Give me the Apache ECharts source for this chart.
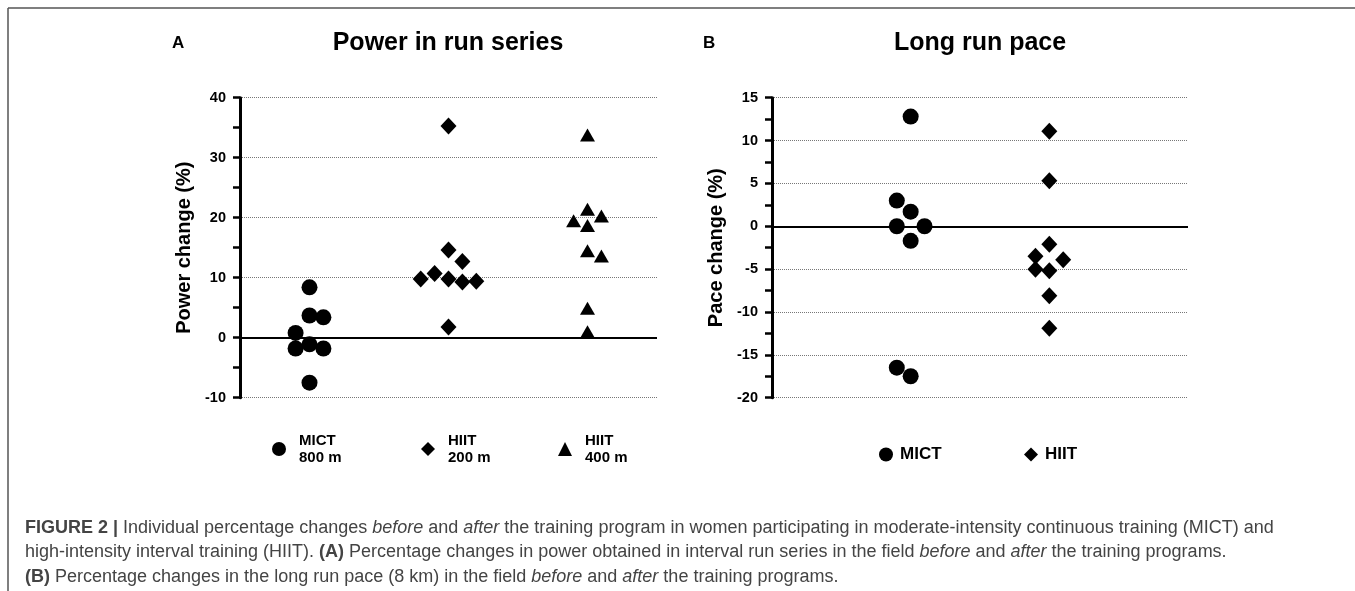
<!DOCTYPE html>
<html>
<head>
<meta charset="utf-8">
<script src="https://cdn.jsdelivr.net/npm/echarts@6/dist/echarts.min.js"></script>
<style>
  html, body { margin: 0; padding: 0; background: #fff; }
  #chart { width: 1355px; height: 591px; }
</style>
</head>
<body>
<div id="chart"></div>
<script>
// ---------- Data ----------
// Panel A: Power in run series (% change)
const groupsA = ['MICT 800 m', 'HIIT 200 m', 'HIIT 400 m'];
const mict800 = [8.4, 3.7, 3.4, 0.8, -1.1, -1.8, -1.8, -7.5];
const mict800Slot = [0, 0, 1, -1, 0, -1, 1, 0];
const hiit200 = [35.3, 14.6, 12.7, 10.7, 9.8, 9.8, 9.3, 9.4, 1.8];
const hiit200Slot = [0, 0, 1, -1, -2, 0, 1, 2, 0];
const hiit400 = [33.8, 21.4, 20.3, 19.5, 18.7, 14.5, 13.6, 4.9, 1.0];
const hiit400Slot = [0, 0, 1, -1, 0, 0, 1, 0, 0];
const ticksA = [-10, 0, 10, 20, 30, 40];

// Panel B: Long run pace (% change)
const groupsB = ['MICT', 'HIIT'];
const mictPace = [12.8, 3.0, 1.7, 0, 0, -1.7, -16.5, -17.5];
const mictPaceSlot = [0, -1, 0, -1, 1, 0, -1, 0];
const hiitPace = [11.1, 5.3, -2.1, -3.5, -3.9, -5.0, -5.2, -8.1, -11.9];
const hiitPaceSlot = [0, 0, 0, -1, 1, -1, 0, 0, 0];
const ticksB = [-20, -15, -10, -5, 0, 5, 10, 15];

// ---------- Helpers ----------
const FONT = "'Liberation Sans', Arial, sans-serif";
const SLOT = 0.1;
function pts(values, slots, center) {
  return values.map((v, i) => [center + slots[i] * SLOT, v]);
}

const zeroLine = {
  silent: true, symbol: 'none', animation: false,
  label: { show: false },
  lineStyle: { color: '#000', width: 2, type: 'solid' },
  data: [{ yAxis: 0 }]
};

function yAxisCfg(grid, tks, name) {
  return {
    gridIndex: grid, type: 'value',
    min: tks[0], max: tks[tks.length - 1], interval: tks[1] - tks[0],
    name: name, nameLocation: 'middle', nameGap: 46,
    nameTextStyle: { fontSize: 20, fontWeight: 'bold', color: '#000', fontFamily: FONT },
    axisLine: { show: true, lineStyle: { color: '#000', width: 3 } },
    axisTick: { show: true, length: 7, lineStyle: { color: '#000', width: 2.5 } },
    minorTick: { show: true, splitNumber: 2, length: 7, lineStyle: { color: '#000', width: 2.5 } },
    axisLabel: { fontSize: 14.5, fontWeight: 'bold', color: '#000', margin: 14, fontFamily: FONT },
    splitLine: { show: true, lineStyle: { type: 'dotted', color: '#777', width: 1 } }
  };
}

const blk = { color: '#000', opacity: 1 };
const capStyle = {
  fontSize: 18, fontWeight: 'normal', color: '#444', fontFamily: FONT,
  rich: {
    b: { fontSize: 18, fontWeight: 'bold', color: '#444', fontFamily: FONT },
    i: { fontSize: 18, fontStyle: 'italic', color: '#444', fontFamily: FONT }
  }
};

const legendBase = {
  orient: 'horizontal', padding: 0, itemWidth: 14, itemHeight: 14,
  selectedMode: false,
  textStyle: { fontSize: 15, fontWeight: 'bold', color: '#000', fontFamily: FONT, lineHeight: 17, padding: [0, 0, 0, 8] }
};
const legendBText = Object.assign({}, legendBase.textStyle, { fontSize: 17, padding: [0, 0, 0, 2] });
const nl = n => n.replace(' ', '\n');

const option = {
  animation: false,
  backgroundColor: '#fff',
  title: [
    { text: 'A', left: 172, top: 35, padding: 0, textStyle: { fontSize: 17, fontWeight: 'bold', color: '#000', fontFamily: FONT } },
    { text: 'Power in run series', left: 448, top: 31, padding: 0, textAlign: 'center', textStyle: { fontSize: 25, fontWeight: 'bold', color: '#000', fontFamily: FONT } },
    { text: 'B', left: 703, top: 35, padding: 0, textStyle: { fontSize: 17, fontWeight: 'bold', color: '#000', fontFamily: FONT } },
    { text: 'Long run pace', left: 980, top: 31, padding: 0, textAlign: 'center', textStyle: { fontSize: 25, fontWeight: 'bold', color: '#000', fontFamily: FONT } },
    { text: '{b|FIGURE 2 |} Individual percentage changes {i|before} and {i|after} the training program in women participating in moderate-intensity continuous training (MICT) and', left: 25, top: 519, padding: 0, textStyle: capStyle },
    { text: 'high-intensity interval training (HIIT). {b|(A)} Percentage changes in power obtained in interval run series in the field {i|before} and {i|after} the training programs.', left: 25, top: 543, padding: 0, textStyle: capStyle },
    { text: '{b|(B)} Percentage changes in the long run pace (8 km) in the field {i|before} and {i|after} the training programs.', left: 25, top: 568, padding: 0, textStyle: capStyle }
  ],
  graphic: [
    { type: 'line', shape: { x1: 8, y1: 8, x2: 1355, y2: 8 }, style: { stroke: '#555', lineWidth: 1.5 } },
    { type: 'line', shape: { x1: 8, y1: 8, x2: 8, y2: 591 }, style: { stroke: '#555', lineWidth: 1.5 } }
  ],
  legend: [
    Object.assign({}, legendBase, { data: [groupsA[0]], left: 272, top: 432, formatter: nl }),
    Object.assign({}, legendBase, { data: [groupsA[1]], left: 421, top: 432, formatter: nl }),
    Object.assign({}, legendBase, { data: [groupsA[2]], left: 558, top: 432, formatter: nl }),
    Object.assign({}, legendBase, { data: [groupsB[0]], left: 879, top: 446, textStyle: legendBText }),
    Object.assign({}, legendBase, { data: [groupsB[1]], left: 1024, top: 446, textStyle: legendBText })
  ],
  grid: [
    { left: 240, top: 97.7, width: 417, height: 300 },
    { left: 772, top: 97.7, width: 416, height: 300 }
  ],
  xAxis: [
    { gridIndex: 0, type: 'value', min: 0, max: 3, show: false },
    { gridIndex: 1, type: 'value', min: 0, max: 3, show: false }
  ],
  yAxis: [
    yAxisCfg(0, ticksA, 'Power change (%)'),
    yAxisCfg(1, ticksB, 'Pace change (%)')
  ],
  series: [
    { name: groupsA[0], type: 'scatter', xAxisIndex: 0, yAxisIndex: 0, symbol: 'circle', symbolSize: 16, itemStyle: blk, data: pts(mict800, mict800Slot, 0.5), markLine: zeroLine, z: 3 },
    { name: groupsA[1], type: 'scatter', xAxisIndex: 0, yAxisIndex: 0, symbol: 'diamond', symbolSize: [16, 17], itemStyle: blk, data: pts(hiit200, hiit200Slot, 1.5), z: 3 },
    { name: groupsA[2], type: 'scatter', xAxisIndex: 0, yAxisIndex: 0, symbol: 'triangle', symbolSize: [15, 13], itemStyle: blk, data: pts(hiit400, hiit400Slot, 2.5), z: 3 },
    { name: groupsB[0], type: 'scatter', xAxisIndex: 1, yAxisIndex: 1, symbol: 'circle', symbolSize: 16, itemStyle: blk, data: pts(mictPace, mictPaceSlot, 1), markLine: zeroLine, z: 3 },
    { name: groupsB[1], type: 'scatter', xAxisIndex: 1, yAxisIndex: 1, symbol: 'diamond', symbolSize: [16, 17], itemStyle: blk, data: pts(hiitPace, hiitPaceSlot, 2), z: 3 }
  ]
};

const chart = echarts.init(document.getElementById('chart'), null, { renderer: 'canvas' });
chart.setOption(option);
</script>
</body>
</html>
